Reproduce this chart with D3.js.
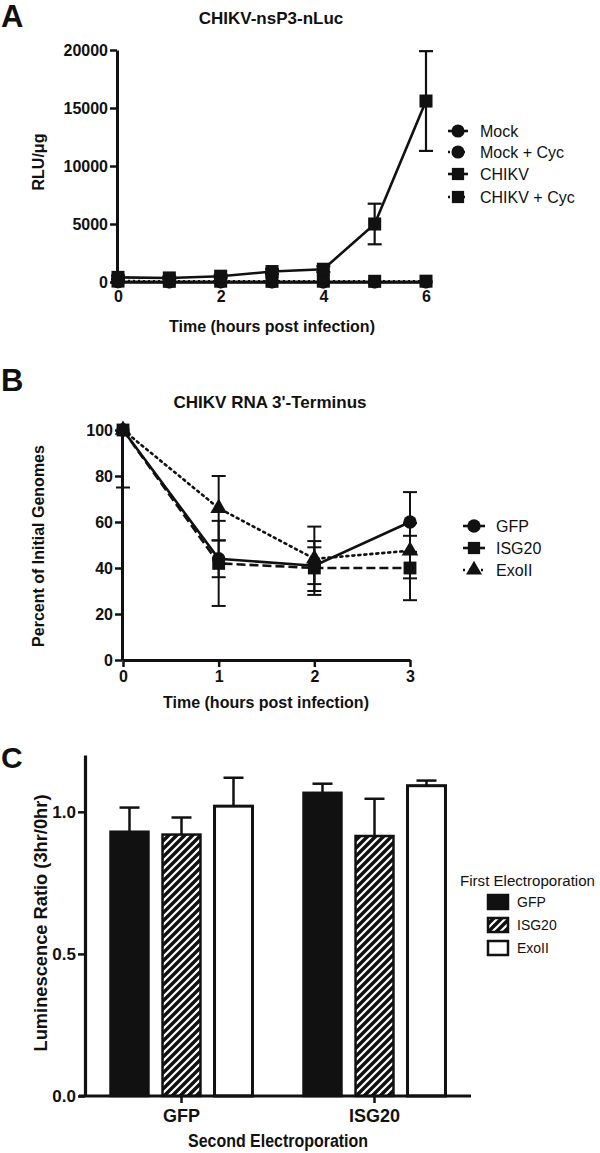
<!DOCTYPE html>
<html><head><meta charset="utf-8">
<script src="https://cdn.jsdelivr.net/npm/d3@7"></script>
<style>body{margin:0;background:#fff} svg{display:block} text{font-family:"Liberation Sans",Arial,Helvetica,sans-serif;fill:#111}</style>
</head><body><svg id="c" width="600" height="1153"></svg>
<script>
// ---------- Panel A data ----------
const hoursA = [0,1,2,3,4,5,6];
const mockA = [20,15,10,15,10,10,15];
const mockCycA = [30,20,25,20,15,20,20];
const chikvA = [400,350,500,900,1100,5000,15600];
const chikvErrA = [150,100,120,200,250,1750,4300];
const chikvCycA = [80,60,70,60,70,60,70];
const namesA = ["Mock","Mock + Cyc","CHIKV","CHIKV + Cyc"];
const ticksAY = [0,5000,10000,15000,20000];
const ticksAX = [0,2,4,6];

// ---------- Panel B data ----------
const hoursB = [0,1,2,3];
const gfpB = [100,44,41,60];
const gfpErrB = [25,8,8,13];
const isgB = [100,42,40,40];
const isgErrB = [0,18.5,11.7,14];
const exoB = [100,66,44,47.5];
const exoErrB = [0,14,14,12];
const namesB = ["GFP","ISG20","ExoII"];
const ticksBY = [0,20,40,60,80,100];
const ticksBX = [0,1,2,3];

// ---------- Panel C data ----------
const groupsC = ["GFP","ISG20"];
const firstC = ["GFP","ISG20","ExoII"];
const valsC_GFP = [0.93,0.92,1.02];
const errC_GFP = [0.085,0.06,0.10];
const valsC_ISG = [1.067,0.915,1.092];
const errC_ISG = [0.032,0.131,0.018];
const ticksCY = [0.0,0.5,1.0];

const svg = d3.select("#c");
const defs = svg.append("defs");
const pat = defs.append("pattern").attr("id","hatch").attr("patternUnits","userSpaceOnUse")
  .attr("width",8).attr("height",8);
pat.append("rect").attr("width",8).attr("height",8).attr("fill","#111");
pat.append("path").attr("d","M-1,9 L9,-1 M-1,1 L1,-1 M7,9 L9,7").attr("stroke","#fff").attr("stroke-width",2.2);

function txt(g,x,y,s,opt={}){
  const t=g.append("text").attr("x",x).attr("y",y).text(s)
    .attr("font-size",opt.size||16).attr("font-weight",opt.weight||"bold")
    .attr("text-anchor",opt.anchor||"start");
  if(opt.rot) t.attr("transform",`rotate(-90,${x},${y})`);
  if(opt.len) t.attr("textLength",opt.len).attr("lengthAdjust","spacingAndGlyphs");
  return t;
}
const sym = (type,size)=>d3.symbol().type(type).size(size)();

// =================== PANEL A ===================
const gA = svg.append("g");
const xA = d3.scaleLinear().domain([0,6]).range([118,426]);
const yA = d3.scaleLinear().domain([0,20000]).range([282,50]);
txt(gA,1,27,"A",{size:31});
txt(gA,271,24,"CHIKV-nsP3-nLuc",{size:17,anchor:"middle"});
const axYA = gA.append("g").attr("transform","translate(117,0)")
  .call(d3.axisLeft(yA).tickValues(ticksAY).tickSize(7).tickSizeOuter(0).tickFormat(d3.format("d")));
axYA.select(".domain").attr("stroke","#111").attr("stroke-width",3);
axYA.selectAll(".tick line").attr("stroke","#111").attr("stroke-width",2.5);
axYA.selectAll(".tick text").attr("font-size",16).attr("font-weight","bold").attr("fill","#111").attr("dx",1).attr("font-family","Liberation Sans, Arial, sans-serif");
const axXA = gA.append("g").attr("transform","translate(0,282)")
  .call(d3.axisBottom(xA).tickValues(ticksAX).tickSize(0).tickPadding(9).tickFormat(d3.format("d")));
axXA.select(".domain").attr("stroke","#111").attr("stroke-width",2.5);
axXA.selectAll(".tick text").attr("font-size",16).attr("font-weight","bold").attr("fill","#111").attr("font-family","Liberation Sans, Arial, sans-serif");
txt(gA,44,162,"RLU/\u03bcg",{size:16,anchor:"middle",rot:true});
txt(gA,272,332,"Time (hours post infection)",{size:16,anchor:"middle"});

const seriesA = [
  {name:namesA[3], v:chikvCycA, dash:"2,3", sym:d3.symbolSquare, size:170},
  {name:namesA[2], v:chikvA, err:chikvErrA, dash:null, sym:d3.symbolSquare, size:170},
  {name:namesA[1], v:mockCycA, dash:"2,3", sym:d3.symbolCircle, size:135},
  {name:namesA[0], v:mockA, dash:null, sym:d3.symbolCircle, size:135}
];
const lineA = d3.line().x((d,i)=>xA(hoursA[i])).y(d=>yA(d));
seriesA.forEach(s=>{
  if(s.err){
    hoursA.forEach((h,i)=>{
      const x=xA(h), y1=yA(s.v[i]+s.err[i]), y2=yA(Math.max(0,s.v[i]-s.err[i]));
      gA.append("line").attr("x1",x).attr("x2",x).attr("y1",y1).attr("y2",y2).attr("stroke","#111").attr("stroke-width",2.2);
      [y1,y2].forEach(y=>gA.append("line").attr("x1",x-7).attr("x2",x+7).attr("y1",y).attr("y2",y).attr("stroke","#111").attr("stroke-width",2.2));
    });
  }
  gA.append("path").datum(s.v).attr("d",lineA).attr("fill","none").attr("stroke","#111")
    .attr("stroke-width",2.6).attr("stroke-dasharray",s.dash);
  s.v.forEach((d,i)=>gA.append("path").attr("d",sym(s.sym,s.size))
    .attr("transform",`translate(${xA(hoursA[i])},${yA(d)})`).attr("fill","#111"));
});
const legA = [
  {name:namesA[0],dash:null,sym:d3.symbolCircle,size:135},
  {name:namesA[1],dash:"2,3",sym:d3.symbolCircle,size:135},
  {name:namesA[2],dash:null,sym:d3.symbolSquare,size:150},
  {name:namesA[3],dash:"2,3",sym:d3.symbolSquare,size:150}
];
const legYA = [131,152,174,197];
legA.forEach((s,i)=>{
  const y=legYA[i];
  gA.append("line").attr("x1",448).attr("x2",468).attr("y1",y).attr("y2",y).attr("stroke","#111").attr("stroke-width",2.6).attr("stroke-dasharray",s.dash);
  gA.append("path").attr("d",sym(s.sym,s.size)).attr("transform",`translate(458,${y})`).attr("fill","#111");
  txt(gA,480,y+6,s.name,{size:16,weight:"normal"});
});

// =================== PANEL B ===================
const gB = svg.append("g");
const xB = d3.scaleLinear().domain([0,3]).range([123,410]);
const yB = d3.scaleLinear().domain([0,100]).range([660,430]);
txt(gB,1,391,"B",{size:31});
txt(gB,270,408,"CHIKV RNA 3'-Terminus",{size:17,anchor:"middle"});
const axYB = gB.append("g").attr("transform","translate(122,0)")
  .call(d3.axisLeft(yB).tickValues(ticksBY).tickSize(7).tickSizeOuter(0));
axYB.select(".domain").attr("stroke","#111").attr("stroke-width",3);
axYB.selectAll(".tick line").attr("stroke","#111").attr("stroke-width",2.5);
axYB.selectAll(".tick text").attr("font-size",16).attr("font-weight","bold").attr("fill","#111").attr("dx",1).attr("font-family","Liberation Sans, Arial, sans-serif");
const axXB = gB.append("g").attr("transform","translate(0,660)")
  .call(d3.axisBottom(xB).tickValues(ticksBX).tickSize(7).tickSizeOuter(0).tickPadding(4).tickFormat(d3.format("d")));
axXB.select(".domain").attr("stroke","#111").attr("stroke-width",3);
axXB.selectAll(".tick line").attr("stroke","#111").attr("stroke-width",2.5);
axXB.selectAll(".tick text").attr("font-size",16).attr("font-weight","bold").attr("fill","#111").attr("font-family","Liberation Sans, Arial, sans-serif");
txt(gB,44,546,"Percent of Initial Genomes",{size:16,anchor:"middle",rot:true});
txt(gB,266,708,"Time (hours post infection)",{size:16,anchor:"middle"});
defs.append("clipPath").attr("id","clipB").append("rect").attr("x",100).attr("y",429).attr("width",400).attr("height",240);

const seriesB = [
  {name:namesB[2], v:exoB, err:exoErrB, dash:"2,4", sym:d3.symbolTriangle, size:120},
  {name:namesB[1], v:isgB, err:isgErrB, dash:"9,4", sym:d3.symbolSquare, size:165},
  {name:namesB[0], v:gfpB, err:gfpErrB, dash:null, sym:d3.symbolCircle, size:140}
];
const lineB = d3.line().x((d,i)=>xB(hoursB[i])).y(d=>yB(d));
const errG = gB.append("g").attr("clip-path","url(#clipB)");
seriesB.forEach(s=>{
  hoursB.forEach((h,i)=>{
    if(!s.err[i]) return;
    const x=xB(h), y1=yB(s.v[i]+s.err[i]), y2=yB(s.v[i]-s.err[i]);
    errG.append("line").attr("x1",x).attr("x2",x).attr("y1",y1).attr("y2",y2).attr("stroke","#111").attr("stroke-width",2);
    [y1,y2].forEach(y=>errG.append("line").attr("x1",x-7).attr("x2",x+7).attr("y1",y).attr("y2",y).attr("stroke","#111").attr("stroke-width",2));
  });
});
seriesB.forEach(s=>{
  gB.append("path").datum(s.v).attr("d",lineB).attr("fill","none").attr("stroke","#111")
    .attr("stroke-width",2.6).attr("stroke-dasharray",s.dash).attr("stroke-linecap",s.dash==="2,4"?"round":"butt");
  s.v.forEach((d,i)=>gB.append("path").attr("d",sym(s.sym,s.size))
    .attr("transform",`translate(${xB(hoursB[i])},${yB(d)})`).attr("fill","#111"));
});
const legB = [
  {name:namesB[0],dash:null,sym:d3.symbolCircle,size:140},
  {name:namesB[1],dash:null,sym:d3.symbolSquare,size:150},
  {name:namesB[2],dash:"2,4",sym:d3.symbolTriangle,size:110}
];
[526,548,570].forEach((y,i)=>{
  const s=legB[i];
  gB.append("line").attr("x1",463).attr("x2",485).attr("y1",y).attr("y2",y).attr("stroke","#111").attr("stroke-width",2.6).attr("stroke-dasharray",s.dash);
  gB.append("path").attr("d",sym(s.sym,s.size)).attr("transform",`translate(474,${y})`).attr("fill","#111");
  txt(gB,496,y+6,s.name,{size:16,weight:"normal"});
});

// =================== PANEL C ===================
const gC = svg.append("g");
const x0C = d3.scaleBand().domain(groupsC).range([85,471]).padding(0);
const x1C = d3.scaleBand().domain(firstC).range([18.5,174.5]).paddingInner(0.27).paddingOuter(0.135);
const yC = d3.scaleLinear().domain([0,1.2]).range([1096,755]);
txt(gC,1,768,"C",{size:30});
const valsC = [valsC_GFP, valsC_ISG];
const errsC = [errC_GFP, errC_ISG];
const fills = ["#111","url(#hatch)","#fff"];
groupsC.forEach((g,gi)=>{
  firstC.forEach((f,fi)=>{
    const x = x0C(g)+x1C(f), w=x1C.bandwidth(), v=valsC[gi][fi], e=errsC[gi][fi];
    const cx = x+w/2;
    gC.append("line").attr("x1",cx).attr("x2",cx).attr("y1",yC(v)).attr("y2",yC(v+e)).attr("stroke","#111").attr("stroke-width",2.5);
    gC.append("line").attr("x1",cx-10).attr("x2",cx+10).attr("y1",yC(v+e)).attr("y2",yC(v+e)).attr("stroke","#111").attr("stroke-width",2.5);
    gC.append("rect").attr("x",x).attr("y",yC(v)).attr("width",w).attr("height",yC(0)-yC(v))
      .attr("fill",fills[fi]).attr("stroke","#111").attr("stroke-width",fi===2?3:2.5);
  });
});
const axYC = gC.append("g").attr("transform","translate(85,0)")
  .call(d3.axisLeft(yC).tickValues(ticksCY).tickSize(7).tickSizeOuter(0).tickFormat(d3.format(".1f")));
axYC.select(".domain").attr("stroke","#111").attr("stroke-width",3.2);
axYC.selectAll(".tick line").attr("stroke","#111").attr("stroke-width",2.5);
axYC.selectAll(".tick text").attr("font-size",17).attr("font-weight","bold").attr("fill","#111").attr("dx",1).attr("font-family","Liberation Sans Narrow, Liberation Sans, Arial, sans-serif");
const axXC = gC.append("g").attr("transform","translate(0,1096)")
  .call(d3.axisBottom(x0C).tickSize(7).tickSizeOuter(0).tickPadding(6));
axXC.select(".domain").attr("stroke","#111").attr("stroke-width",3.2).attr("d","M79,0H471");
axXC.selectAll(".tick line").attr("stroke","#111").attr("stroke-width",2.5);
axXC.selectAll(".tick text").attr("font-size",18).attr("font-weight","bold").attr("fill","#111").attr("font-family","Liberation Sans Narrow, Liberation Sans, Arial, sans-serif");
txt(gC,47,923,"Luminescence Ratio (3hr/0hr)",{size:18,anchor:"middle",rot:true,len:257});
txt(gC,278,1147,"Second Electroporation",{size:18,anchor:"middle",len:180});
txt(gC,460,886,"First Electroporation",{size:14,weight:"normal",len:135});
[902,925,948].forEach((y,i)=>{
  gC.append("rect").attr("x",488).attr("y",y-7).attr("width",20).attr("height",14)
    .attr("fill",fills[i]).attr("stroke","#111").attr("stroke-width",2.5);
  txt(gC,517,y+5,firstC[i],{size:14,weight:"normal"});
});
</script></body></html>
